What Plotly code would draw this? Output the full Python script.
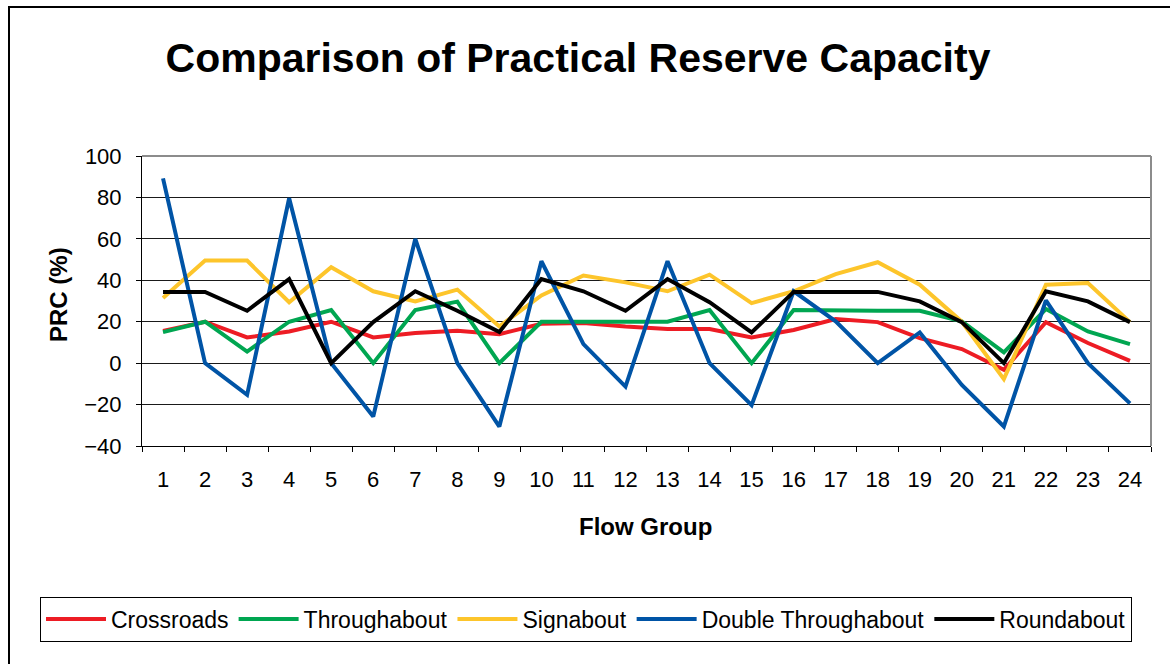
import plotly.graph_objects as go

flow_groups = [str(i) for i in range(1, 25)]

crossroads = [15.6, 20, 12.4, 15.3, 20, 12.4, 14.5, 15.6, 14, 19, 19.4, 17.7,
              16.5, 16.5, 12.4, 16, 21.3, 19.8, 12.1, 6.8, -3.2, 19.8, 9.7, 1.1]
throughabout = [15, 20, 5.6, 20, 25.6, 0, 25.6, 29.7, 0, 20, 20, 20,
                20, 25.6, 0, 25.6, 25.3, 25.3, 25.3, 20.2, 5.2, 26.1, 15.3, 9.2]
signabout = [31.5, 49.5, 49.5, 29.4, 46.3, 34.7, 29.8, 35.5, 17.7, 32.7, 42.3, 39,
             34.7, 42.7, 29, 34.7, 43, 48.7, 37.9, 20, -7.7, 37.9, 38.7, 19.8]
double_throughabout = [89.2, 0, -15.3, 79.6, 0, -25.8, 60, 0, -30.6, 49.2, 9.2, -11.3,
                       49.2, 0, -20.3, 34.7, 20.2, 0, 14.8, -10.5, -30.6, 30.3, 0, -19.4]
roundabout = [34.4, 34.4, 25.3, 40.6, 0, 19.8, 34.7, 25.3, 15, 40.6, 34.7, 25.3,
              40.6, 29.4, 14.8, 34.4, 34.4, 34.4, 29.8, 19.8, 0, 34.7, 29.8, 19.8]

series_names = ["Crossroads", "Throughabout", "Signabout", "Double Throughabout", "Roundabout"]
series_values = [crossroads, throughabout, signabout, double_throughabout, roundabout]
series_colors = ["#ED1C24", "#00A651", "#FDC52B", "#0054A6", "#000000"]

y_ticks = [-40, -20, 0, 20, 40, 60, 80, 100]

FONT = "Liberation Sans, Arial, sans-serif"

fig = go.Figure()
for name, vals, col in zip(series_names, series_values, series_colors):
    fig.add_trace(go.Scatter(x=flow_groups, y=vals, name=name, mode="lines",
                             line=dict(color=col, width=4)))

W, H = 1170, 664
L, R, T, B = 142, 1151, 156, 446
pw, ph = R - L, B - T

def px(x):
    return (x - L) / pw

def py(y):
    return (B - y) / ph

fig.update_layout(
    width=W, height=H,
    margin=dict(l=L, r=W - R, t=T, b=H - B, autoexpand=False),
    paper_bgcolor="white", plot_bgcolor="white",
    font=dict(family=FONT, color="black", size=22),
    title=dict(text="<b>Comparison of Practical Reserve Capacity</b>",
               x=578 / W, xanchor="center", xref="container",
               y=1 - 58 / H, yanchor="middle", yref="container",
               font=dict(size=41, family=FONT, color="black")),
    showlegend=True,
    legend=dict(orientation="h", xref="paper", yref="paper",
                x=px(40), xanchor="left",
                y=py(619), yanchor="middle",
                bordercolor="black", borderwidth=1, bgcolor="white",
                font=dict(size=23, family=FONT), itemwidth=60,
                traceorder="normal"),
    xaxis=dict(type="category", tickson="boundaries", showgrid=False,
               range=[-0.5, 23.5],
               showline=True, linecolor="black", linewidth=1,
               ticks="outside", ticklen=5, tickcolor="black",
               tickfont=dict(size=22), ticklabelstandoff=14,
               zeroline=False, fixedrange=True),
    yaxis=dict(range=[-40, 100], tickvals=y_ticks, showgrid=True,
               gridcolor="#1a1a1a", gridwidth=1,
               showline=True, linecolor="black", linewidth=1,
               ticks="outside", ticklen=5, tickcolor="black",
               tickfont=dict(size=22), ticklabelstandoff=10,
               zeroline=False, fixedrange=True),
    annotations=[
        dict(text="<b>PRC (%)</b>", x=px(58), y=py(295), xref="paper", yref="paper",
             textangle=-90, showarrow=False, font=dict(size=24),
             xanchor="center", yanchor="middle"),
        dict(text="<b>Flow Group</b>", x=px(645), y=py(526), xref="paper", yref="paper",
             showarrow=False, font=dict(size=24),
             xanchor="center", yanchor="middle"),
    ],
    shapes=[
        dict(type="line", xref="paper", yref="paper", x0=0, x1=1, y0=1, y1=1,
             line=dict(color="#8c8c8c", width=2), layer="above"),
        dict(type="line", xref="paper", yref="paper", x0=1, x1=1, y0=0, y1=1,
             line=dict(color="#8c8c8c", width=2), layer="above"),
        dict(type="rect", xref="paper", yref="paper",
             x0=px(9), x1=px(1200), y0=py(7), y1=py(720),
             line=dict(color="black", width=2), fillcolor="rgba(0,0,0,0)",
             layer="below"),
    ],
)

fig.write_html("out.html", config={"displayModeBar": False},
               post_script="document.body.style.margin='0px';document.body.style.overflow='hidden';")
